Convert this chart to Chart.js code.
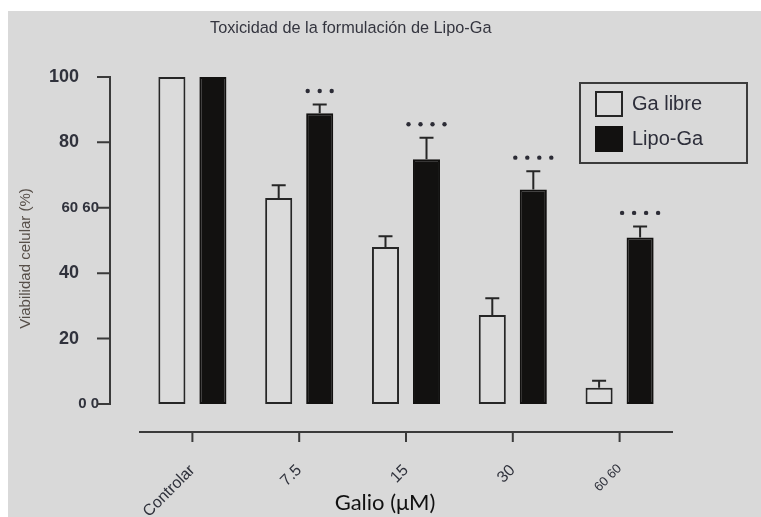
<!DOCTYPE html>
<html>
<head>
<meta charset="utf-8">
<title>Toxicidad de la formulación de Lipo-Ga</title>
<style>
  html, body { margin: 0; padding: 0; background: #ffffff; }
  canvas { display: block; }
</style>
<script src="https://cdn.jsdelivr.net/npm/chart.js@4.4.1/dist/chart.umd.min.js"></script>
</head>
<body>
<canvas id="chart" width="761" height="517"></canvas>
<script>
// Cell viability (%) per gallium concentration
const categories = ['Controlar', '7.5', '15', '30', '60 60'];
const gaLibre = [100, 63, 48, 27.2, 5];
const gaLibreErr = [0, 3.9, 3.3, 5.1, 2.1];
const lipoGa = [100, 88.9, 74.8, 65.6, 50.9];
const lipoGaErr = [0, 2.7, 6.6, 5.6, 3.4];
const lipoGaStars = [0, 3, 4, 4, 4];
const yTickValues = [0, 20, 40, 60, 80, 100];
const yTickLabels = ['0 0', '20', '40', '60 60', '80', '100'];

// Layout constants
const SANS = '"Liberation Sans", Arial, sans-serif';
const INK = '#262626';
const AXIS = '#3a3a3a';
const TEXT = '#30323c';
const PANEL_BG = '#d9d9d9';
const PANEL_LEFT = 8, PANEL_TOP = 11;
const Y_AXIS_GAP = 29;     // y axis line sits this far left of the plot area
const X_AXIS_DROP = 28;    // x axis line sits this far below the zero line
const TICK_LEN_Y = 13, TICK_LEN_X = 10;
const CAP_HALF = 7;
const STAR_GAP = 13.5, STAR_STEP = 12, STAR_R = 2.2;
const LEGEND_BOX = { left: 580, top: 83, right: 747, bottom: 163 };

const panel = {
  id: 'panel',
  beforeDraw(chart) {
    const { ctx, width, height } = chart;
    ctx.save();
    ctx.fillStyle = '#ffffff';
    ctx.fillRect(0, 0, width, height);
    ctx.fillStyle = PANEL_BG;
    ctx.fillRect(PANEL_LEFT, PANEL_TOP, width - PANEL_LEFT, height - PANEL_TOP);
    ctx.restore();
  }
};

// Move titles and legend to their spots once the boxes are laid out
const placement = {
  id: 'placement',
  afterLayout(chart) {
    const { x, y } = chart.scales;
    const area = chart.chartArea;
    x.left = area.left - 42;
    y.bottom = area.bottom + 36;
    const t = chart.titleBlock;
    if (t) { t.left = 210; t.right = 640; }
    const lg = chart.legend;
    if (lg) {
      lg.left = LEGEND_BOX.left + 5;
      lg.top = LEGEND_BOX.top - 2;
      lg.right = LEGEND_BOX.right;
      lg.bottom = LEGEND_BOX.bottom;
      lg.width = lg.right - lg.left;
      lg.height = lg.bottom - lg.top;
    }
  }
};

// Detached axis lines with outward ticks
const axes = {
  id: 'axes',
  afterDraw(chart) {
    const { ctx, chartArea: area, scales: { x, y } } = chart;
    const axisX = area.left - Y_AXIS_GAP;
    const zero = y.getPixelForValue(0);
    const axisY = zero + X_AXIS_DROP;
    ctx.save();
    ctx.strokeStyle = AXIS;
    ctx.lineWidth = 2;
    ctx.beginPath();
    ctx.moveTo(axisX, y.getPixelForValue(y.max) - 1);
    ctx.lineTo(axisX, zero + 1);
    y.ticks.forEach(t => {
      const py = y.getPixelForValue(t.value);
      ctx.moveTo(axisX - TICK_LEN_Y, py);
      ctx.lineTo(axisX, py);
    });
    ctx.moveTo(area.left, axisY);
    ctx.lineTo(area.right, axisY);
    x.ticks.forEach((t, i) => {
      const px = x.getPixelForTick(i);
      ctx.moveTo(px, axisY);
      ctx.lineTo(px, axisY + TICK_LEN_X);
    });
    ctx.stroke();
    ctx.restore();
  }
};

// Upper error bars and significance marks
const errorBars = {
  id: 'errorBars',
  afterDatasetsDraw(chart) {
    const { ctx, scales: { y } } = chart;
    ctx.save();
    ctx.strokeStyle = INK;
    ctx.fillStyle = '#2c2c36';
    ctx.lineWidth = 2;
    chart.data.datasets.forEach((ds, di) => {
      const meta = chart.getDatasetMeta(di);
      meta.data.forEach((bar, i) => {
        const err = ds.errors ? ds.errors[i] : 0;
        const capY = y.getPixelForValue(ds.data[i] + err);
        if (err) {
          ctx.beginPath();
          ctx.moveTo(bar.x, bar.y);
          ctx.lineTo(bar.x, capY);
          ctx.moveTo(bar.x - CAP_HALF, capY);
          ctx.lineTo(bar.x + CAP_HALF, capY);
          ctx.stroke();
        }
        const n = ds.stars ? ds.stars[i] : 0;
        for (let k = 0; k < n; k++) {
          ctx.beginPath();
          ctx.arc(bar.x + (k - (n - 1) / 2) * STAR_STEP, capY - STAR_GAP, STAR_R, 0, Math.PI * 2);
          ctx.fill();
        }
      });
    });
    ctx.restore();
  }
};

const legendFrame = {
  id: 'legendFrame',
  afterDraw(chart) {
    const { ctx } = chart;
    ctx.save();
    ctx.strokeStyle = '#3c3c3c';
    ctx.lineWidth = 2;
    ctx.strokeRect(LEGEND_BOX.left, LEGEND_BOX.top,
      LEGEND_BOX.right - LEGEND_BOX.left, LEGEND_BOX.bottom - LEGEND_BOX.top);
    ctx.restore();
  }
};

new Chart(document.getElementById('chart'), {
  type: 'bar',
  data: {
    labels: categories,
    datasets: [
      {
        label: 'Ga libre',
        data: gaLibre,
        errors: gaLibreErr,
        backgroundColor: '#dbdbdb',
        borderColor: INK,
        borderWidth: 2,
        borderSkipped: false
      },
      {
        label: 'Lipo-Ga',
        data: lipoGa,
        errors: lipoGaErr,
        stars: lipoGaStars,
        backgroundColor: '#121110',
        borderColor: '#121110',
        borderWidth: 2,
        borderSkipped: false
      }
    ]
  },
  options: {
    responsive: false,
    animation: false,
    devicePixelRatio: 1,
    categoryPercentage: 0.768,
    barPercentage: 0.66,
    layout: { padding: { left: PANEL_LEFT, top: PANEL_TOP, right: 88, bottom: 0 } },
    plugins: {
      title: {
        display: true,
        text: 'Toxicidad de la formulación de Lipo-Ga',
        align: 'start',
        color: '#34353f',
        font: { family: SANS, size: 16.3, weight: 'normal' },
        padding: { top: 8.2, bottom: 38.2 }
      },
      legend: {
        position: 'chartArea',
        align: 'start',
        labels: {
          boxWidth: 26,
          boxHeight: 24,
          padding: 11,
          textAlign: 'left',
          color: '#2d2e3a',
          font: { family: SANS, size: 20 }
        }
      },
      tooltip: { enabled: false }
    },
    scales: {
      x: {
        grid: { display: false, drawTicks: false },
        border: { display: false },
        ticks: {
          autoSkip: false,
          minRotation: 45,
          maxRotation: 45,
          padding: 57,
          color: TEXT,
          font: ctx => ({ family: SANS, size: categories[ctx.index] === '60 60' ? 13 : 16 })
        },
        title: {
          display: true,
          text: 'Galio (μM)',
          color: '#111111',
          font: { family: 'Lato, "Open Sans", sans-serif', size: 22 },
          padding: { top: 0, bottom: 1 }
        },
        afterFit(s) { s.height = 113; }
      },
      y: {
        min: 0,
        max: 100,
        afterBuildTicks(s) { s.ticks = yTickValues.map(v => ({ value: v })); },
        grid: { display: false, drawTicks: false },
        border: { display: false },
        ticks: {
          padding: 40,
          color: TEXT,
          callback: (value) => {
            const label = yTickLabels[yTickValues.indexOf(value)];
            return label.includes(' ') ? label : label + '    ';
          },
          font: ctx => {
            const label = yTickLabels[ctx.index] || '';
            return label.includes(' ')
              ? { family: SANS, size: 15, weight: 'bold' }
              : { family: SANS, size: 18, weight: 'bold' };
          }
        },
        title: {
          display: true,
          text: 'Viabilidad celular (%)',
          color: '#574f49',
          font: { family: SANS, size: 15 },
          padding: { top: 8.5, bottom: 0 }
        },
        afterFit(s) { s.width = 131; }
      }
    }
  },
  plugins: [panel, placement, axes, errorBars, legendFrame]
});
</script>
</body>
</html>
